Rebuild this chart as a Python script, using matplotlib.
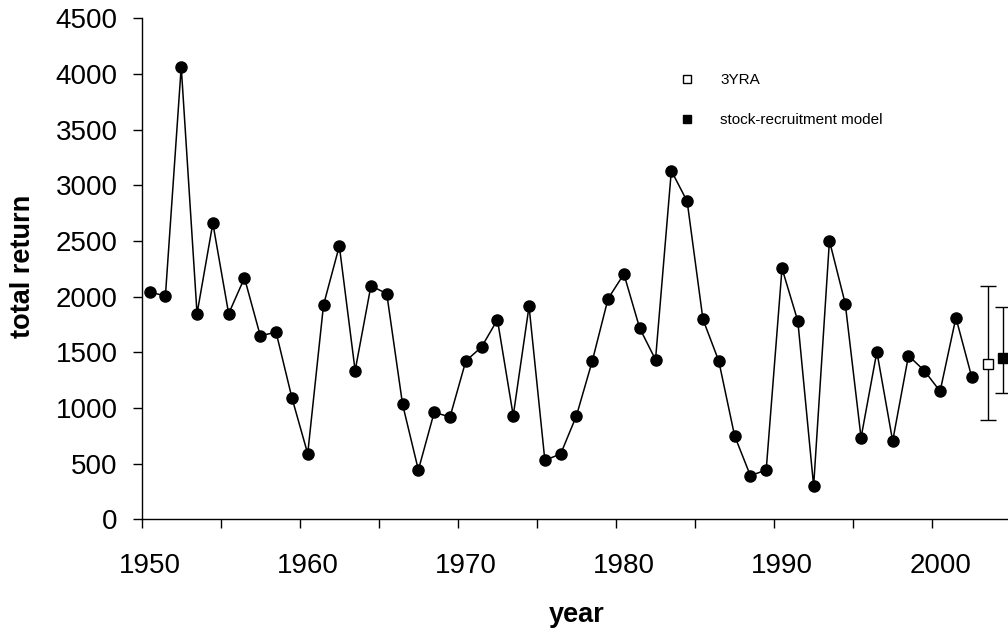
import numpy as np
import matplotlib
matplotlib.use('Agg')
from matplotlib import pyplot as plt
from matplotlib.lines import Line2D
from matplotlib.ticker import FixedLocator

plt.rcParams['font.family'] = ['Liberation Sans', 'DejaVu Sans']

# annual total return
years = list(range(1950, 2003))
total_return = [2039, 2008, 4065, 1847, 2659, 1847, 2168, 1649, 1680, 1092,
                589, 1925, 2455, 1335, 2098, 2026, 1033, 443, 961, 919,
                1422, 1548, 1793, 931, 1913, 530, 587, 931, 1422, 1982,
                2203, 1716, 1434, 3131, 2856, 1796, 1422, 751, 392, 443,
                2254, 1781, 299, 2502, 1937, 733, 1505, 703, 1470, 1335,
                1150, 1811, 1278]

# forecasts for the next season (value, lower, upper)
yra_year, yra_value, yra_low, yra_high = 2003, 1395, 892, 2096
sr_year, sr_value, sr_low, sr_high = 2004, 1452, 1134, 1910

fig = plt.figure(figsize=(10.08, 6.33), dpi=100)
W, H = 1008, 633
left, right, top, bottom = 141.7, 1011.0, 18.3, 519.3
ax = fig.add_axes([left / W, 1 - bottom / H, (right - left) / W, (bottom - top) / H])

ax.plot(years, total_return, color='black', linewidth=1.1, marker='o',
        markersize=8, zorder=3)

ax.errorbar([yra_year], [yra_value],
            yerr=[[yra_value - yra_low], [yra_high - yra_value]],
            fmt='s', color='black', mfc='white', mec='black', markersize=7,
            elinewidth=1.0, capsize=5.5, capthick=1.0, zorder=4, clip_on=False)
ax.errorbar([sr_year], [sr_value],
            yerr=[[sr_value - sr_low], [sr_high - sr_value]],
            fmt='s', color='black', mfc='black', mec='black', markersize=7,
            elinewidth=1.0, capsize=5.5, capthick=1.0, zorder=4, clip_on=False)

ax.set_xlim(1949.5, 1949.5 + (right - left) / 15.81)
ax.set_ylim(0, 4500)
ax.set_yticks(np.arange(0, 4501, 500))

# category-style axis: labels centred on years, tick marks between groups of 5
ax.set_xticks(np.arange(1950, 2001, 10))
ax.xaxis.set_minor_locator(FixedLocator(np.arange(1949.5, 2004, 5)))
ax.tick_params(axis='x', which='major', length=0, pad=24, labelsize=20)
ax.tick_params(axis='x', which='minor', length=6.7, width=1.0, direction='out')
ax.tick_params(axis='y', length=6.5, width=1.0, pad=11, labelsize=20)

for s in ['top', 'right']:
    ax.spines[s].set_visible(False)
for s in ['left', 'bottom']:
    ax.spines[s].set_linewidth(1.0)

ax.set_xlabel('year', fontsize=19.5, fontweight='bold')
ax.xaxis.set_label_coords(0.5, -0.166)
ax.set_ylabel('total return', fontsize=19.5, fontweight='bold')
ax.yaxis.set_label_coords(-0.122, 0.505)

handles = [Line2D([], [], linestyle='none', marker='s', markersize=6,
                  mfc='white', mec='black', mew=1.0),
           Line2D([], [], linestyle='none', marker='s', markersize=6,
                  mfc='black', mec='black', mew=1.0)]
ax.legend(handles, ['3YRA', 'stock-recruitment model'], loc='upper left',
          bbox_to_anchor=((679 - left) / (right - left), (bottom - 73) / (bottom - top)),
          frameon=False, fontsize=11, handlelength=1.0, handletextpad=1.7,
          labelspacing=1.7, borderpad=0, borderaxespad=0)

fig.savefig('out.png', dpi=100)
plt.close(fig)
